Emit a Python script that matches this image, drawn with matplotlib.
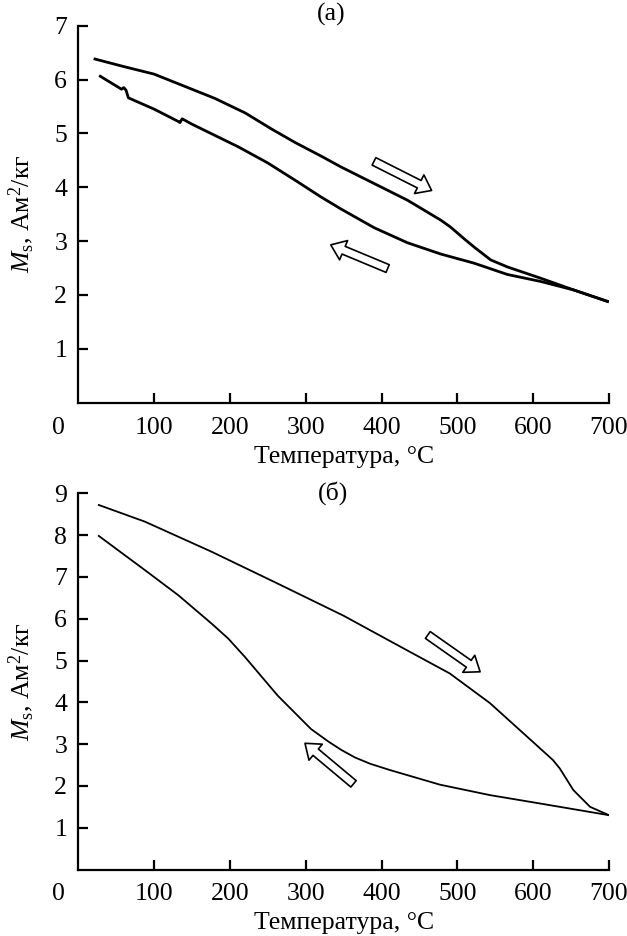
import matplotlib
matplotlib.use("Agg")
import matplotlib.pyplot as plt

plt.rcParams["font.family"] = ["Liberation Serif", "DejaVu Serif"]
plt.rcParams["mathtext.fontset"] = "custom"
plt.rcParams["mathtext.rm"] = "Liberation Serif"
plt.rcParams["mathtext.it"] = "Liberation Serif:italic"
FS = 18.5

# ---- panel (a): heating / cooling ----
heat_a_T = [22, 60, 100, 132, 180, 220, 255, 286, 320, 346, 390, 434, 478, 491, 510, 522, 544, 566, 610, 654, 698]
heat_a_M = [6.38, 6.24, 6.10, 5.92, 5.65, 5.38, 5.08, 4.83, 4.58, 4.38, 4.07, 3.76, 3.39, 3.26, 3.03, 2.89, 2.65, 2.52, 2.31, 2.09, 1.88]

cool_a_T = [29, 50, 57, 60, 63, 66, 100, 132, 134, 137, 150, 211, 250, 286, 320, 346, 390, 434, 478, 522, 566, 610, 654, 698]
cool_a_M = [6.06, 5.88, 5.82, 5.85, 5.80, 5.66, 5.45, 5.22, 5.20, 5.27, 5.17, 4.75, 4.45, 4.13, 3.82, 3.60, 3.25, 2.97, 2.76, 2.59, 2.38, 2.25, 2.09, 1.88]

# ---- panel (б) ----
heat_b_T = [27, 88, 176, 263, 350, 433, 490, 543, 587, 626, 635, 653, 675, 700]
heat_b_M = [8.72, 8.32, 7.60, 6.84, 6.07, 5.25, 4.69, 3.98, 3.26, 2.62, 2.42, 1.90, 1.50, 1.30]

cool_b_T = [27, 88, 132, 176, 198, 220, 263, 307, 330, 347, 365, 385, 411, 477, 543, 609, 700]
cool_b_M = [7.98, 7.16, 6.56, 5.88, 5.52, 5.08, 4.16, 3.36, 3.06, 2.86, 2.68, 2.53, 2.38, 2.03, 1.78, 1.58, 1.30]

# arrows: (tail, head) in data units
arrows_a = [((390, 4.48), (466, 3.94)), ((408, 2.49), (333, 2.93))]
arrows_b = [((461, 5.61), (530, 4.73)), ((363, 2.05), (299, 3.02))]

xticks = [100, 200, 300, 400, 500, 600, 700]
ylabel = r"$M_\mathrm{s}$, Ам$^2$/кг"
xlabel = "Температура, °С"

fig = plt.figure(figsize=(6.27, 9.36), dpi=100)
ax_a = fig.add_axes([0.1249, 0.5698, 0.8464, 0.4028])
ax_b = fig.add_axes([0.1249, 0.0710, 0.8464, 0.4020])


def style_axis(ax, ymax):
    ax.set_xlim(0, 700)
    ax.set_ylim(0, ymax)
    for s in ["top", "right"]:
        ax.spines[s].set_visible(False)
    for s in ["left", "bottom"]:
        ax.spines[s].set_linewidth(1.6)
    ax.set_xticks(xticks)
    ax.set_yticks(range(1, ymax + 1))
    ax.tick_params(direction="in", length=7, width=1.6, labelsize=FS)
    ax.tick_params(axis="x", pad=10)
    ax.tick_params(axis="y", pad=8)
    ax.set_xlabel(xlabel, fontsize=FS, labelpad=5)
    ax.set_ylabel(ylabel, fontsize=FS)
    ax.yaxis.set_label_coords(-0.08, 0.5)
    # shared origin label, placed left of the corner
    ax.annotate("0", xy=(0, 0), xycoords=("data", "axes fraction"),
                xytext=(-14.5, -10), textcoords="offset points",
                ha="center", va="top", fontsize=FS)


def draw_arrows(ax, arrows):
    for tail, head in arrows:
        ax.annotate("", xy=head, xytext=tail,
                    arrowprops=dict(arrowstyle="simple,head_width=1.5,head_length=1.0,tail_width=0.6",
                                    mutation_scale=10, fc="white", ec="black", lw=1.2,
                                    shrinkA=0, shrinkB=0))


style_axis(ax_a, 7)
ax_a.plot(heat_a_T, heat_a_M, color="black", lw=2.0)
ax_a.plot(cool_a_T, cool_a_M, color="black", lw=2.0)
draw_arrows(ax_a, arrows_a)

style_axis(ax_b, 9)
ax_b.plot(heat_b_T, heat_b_M, color="black", lw=1.3)
ax_b.plot(cool_b_T, cool_b_M, color="black", lw=1.3)
draw_arrows(ax_b, arrows_b)

fig.text(331 / 627, 1 - 14 / 936, "(а)", ha="center", va="center", fontsize=FS)
fig.text(333 / 627, 1 - 493 / 936, "(б)", ha="center", va="center", fontsize=FS)

fig.savefig("out.png", dpi=100)
